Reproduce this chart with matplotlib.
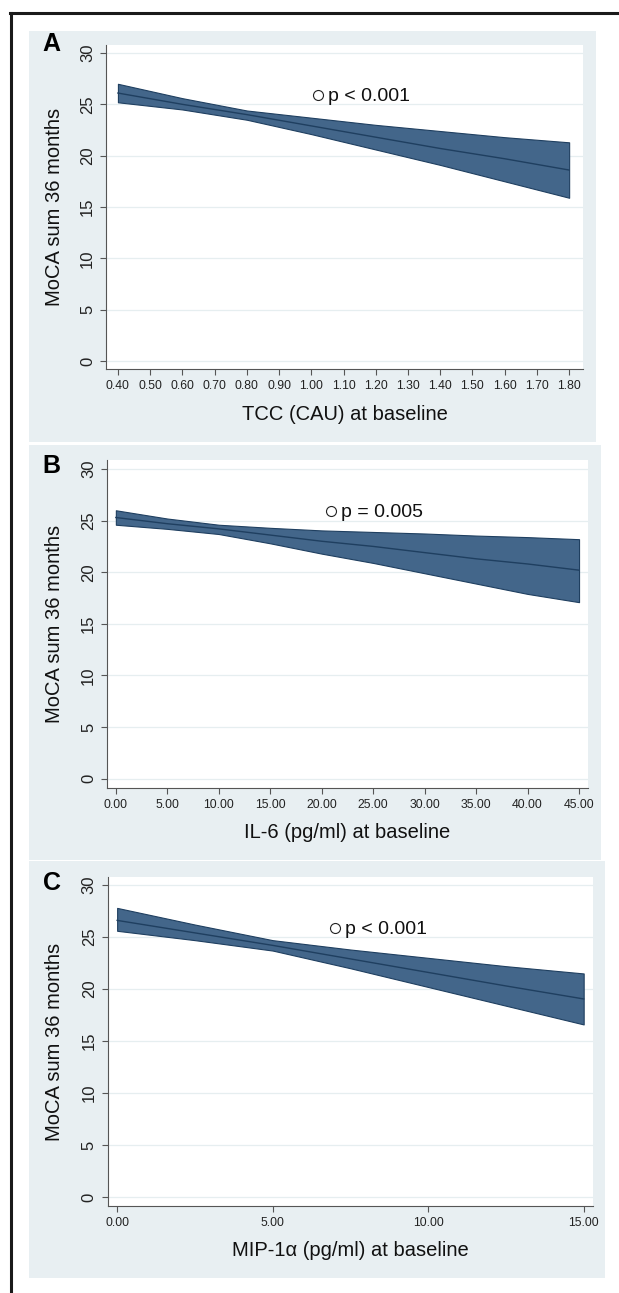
import matplotlib
matplotlib.use("Agg")
import matplotlib.pyplot as plt
from matplotlib.patches import Rectangle
from matplotlib.lines import Line2D

plt.rcParams['font.family'] = ['Liberation Sans', 'DejaVu Sans']

# ---- data ----
# A: TCC (CAU)
tcc_x = [0.4, 0.6, 0.8, 1.0, 1.2, 1.4, 1.6, 1.8]
tcc_fit = [26.1, 25.0, 24.0, 22.9, 21.8, 20.7, 19.7, 18.6]
tcc_hi = [27.0, 25.6, 24.4, 23.7, 23.0, 22.4, 21.8, 21.3]
tcc_lo = [25.2, 24.5, 23.5, 22.1, 20.6, 19.1, 17.5, 15.9]
tcc_ticks = [0.4, 0.5, 0.6, 0.7, 0.8, 0.9, 1.0, 1.1, 1.2, 1.3, 1.4, 1.5, 1.6, 1.7, 1.8]

# B: IL-6
il6_x = [0, 5, 10, 15, 20, 25, 30, 35, 40, 45]
il6_fit = [25.3, 24.7, 24.2, 23.6, 23.0, 22.5, 21.9, 21.3, 20.8, 20.2]
il6_hi = [26.0, 25.2, 24.6, 24.3, 24.05, 23.9, 23.75, 23.55, 23.4, 23.2]
il6_lo = [24.6, 24.2, 23.7, 22.8, 21.8, 20.9, 19.9, 18.9, 17.9, 17.1]
il6_ticks = [0, 5, 10, 15, 20, 25, 30, 35, 40, 45]

# C: MIP-1a
mip_x = [0, 2.5, 5, 7.5, 10, 12.5, 15]
mip_fit = [26.6, 25.4, 24.2, 22.9, 21.6, 20.3, 19.05]
mip_hi = [27.8, 26.2, 24.7, 23.8, 23.0, 22.2, 21.5]
mip_lo = [25.6, 24.7, 23.7, 22.0, 20.2, 18.4, 16.6]
mip_ticks = [0, 5, 10, 15]

letters = ['A', 'B', 'C']
xlabels = ['TCC (CAU) at baseline', 'IL-6 (pg/ml) at baseline', 'MIP-1α (pg/ml) at baseline']
ylabel = 'MoCA sum 36 months'
p_texts = ['p < 0.001', 'p = 0.005', 'p < 0.001']
p_pos = [(1.02, 25.9), (20.9, 25.9), (7.0, 25.9)]
yticks = [0, 5, 10, 15, 20, 25, 30]

series = [(tcc_x, tcc_fit, tcc_lo, tcc_hi, tcc_ticks),
          (il6_x, il6_fit, il6_lo, il6_hi, il6_ticks),
          (mip_x, mip_fit, mip_lo, mip_hi, mip_ticks)]

# ---- layout (pixels) ----
W, H = 619, 1293
BG = '#e8eff2'
FILL = '#43668a'
EDGE = '#1f3f60'
GRID = '#e6eef0'
AX = '#555555'

panel_bg = [(29, 31, 596, 442), (29, 445, 601, 860), (29, 861, 605, 1278)]
axes_box = [(106, 45, 583, 369), (107, 460, 588, 788), (107.5, 877, 593, 1206)]
xlims = [(0.363, 1.843), (-0.86, 45.87), (-0.31, 15.3)]
ylims = [(-0.78, 30.78), (-0.9, 30.87), (-0.85, 30.77)]
letter_pos = [(51, 44), (51, 466), (52, 883)]
xlab_off = [46, 44, 44]


def frac(l, t, r, b):
    return [l / W, 1 - b / H, (r - l) / W, (b - t) / H]


fig = plt.figure(figsize=(W / 100, H / 100), dpi=100)
fig.patch.set_facecolor('white')

for (l, t, r, b) in panel_bg:
    fig.patches.append(Rectangle((l / W, 1 - b / H), (r - l) / W, (b - t) / H,
                                 transform=fig.transFigure, facecolor=BG,
                                 edgecolor='none', zorder=-10))

# outer frame (top and left)
fig.add_artist(Line2D([10 / W, 1], [1 - 13 / H, 1 - 13 / H], transform=fig.transFigure,
                      color='#1a1a1a', lw=2.2))
fig.add_artist(Line2D([11 / W, 11 / W], [1 - 13 / H, 0], transform=fig.transFigure,
                      color='#1a1a1a', lw=2.2))

for i, (x, fit, lo, hi, xt) in enumerate(series):
    l, t, r, b = axes_box[i]
    ax = fig.add_axes(frac(l, t, r, b))
    ax.set_facecolor('white')
    ax.fill_between(x, lo, hi, facecolor=FILL, edgecolor=EDGE, lw=0.8, zorder=2)
    ax.plot(x, fit, color=EDGE, lw=1.0, zorder=3)

    ax.set_xlim(*xlims[i])
    ax.set_ylim(*ylims[i])
    ax.set_yticks(yticks)
    ax.set_xticks(xt)
    ax.set_xticklabels(['%.2f' % v for v in xt])
    ax.grid(axis='y', color=GRID, lw=0.9, zorder=0)
    ax.set_axisbelow(True)

    for s in ['top', 'right']:
        ax.spines[s].set_visible(False)
    for s in ['left', 'bottom']:
        ax.spines[s].set_color(AX)
        ax.spines[s].set_linewidth(0.8)

    ax.tick_params(axis='y', length=4.3, width=0.8, color=AX, labelsize=12,
                   pad=3.5, labelrotation=90, labelcolor='#222222')
    ax.tick_params(axis='x', length=4.3, width=0.8, color=AX, labelsize=8.8,
                   pad=3.5, labelcolor='#222222')
    for lab in ax.get_yticklabels():
        lab.set_va('center')

    ax.set_xlabel(xlabels[i], fontsize=14.5, color='#111111')
    ax.xaxis.set_label_coords(0.5, -xlab_off[i] / (b - t))
    ax.xaxis.label.set_va('center')
    ax.set_ylabel(ylabel, fontsize=14.5, color='#111111')
    ax.yaxis.set_label_coords((55 - l) / (r - l), 0.5)
    ax.yaxis.label.set_va('center')

    px, py = p_pos[i]
    ax.plot([px], [py], 'o', mfc='none', mec='#222222', ms=7.2, mew=0.8, zorder=4)
    ax.annotate(p_texts[i], (px, py), xytext=(7.5, -1), textcoords='offset points',
                ha='left', va='center', fontsize=14, color='#111111')

    lx, ly = letter_pos[i]
    fig.text(lx / W, 1 - ly / H, letters[i], fontsize=18, fontweight='bold',
             ha='center', va='center')

fig.savefig('out.png', dpi=100)
